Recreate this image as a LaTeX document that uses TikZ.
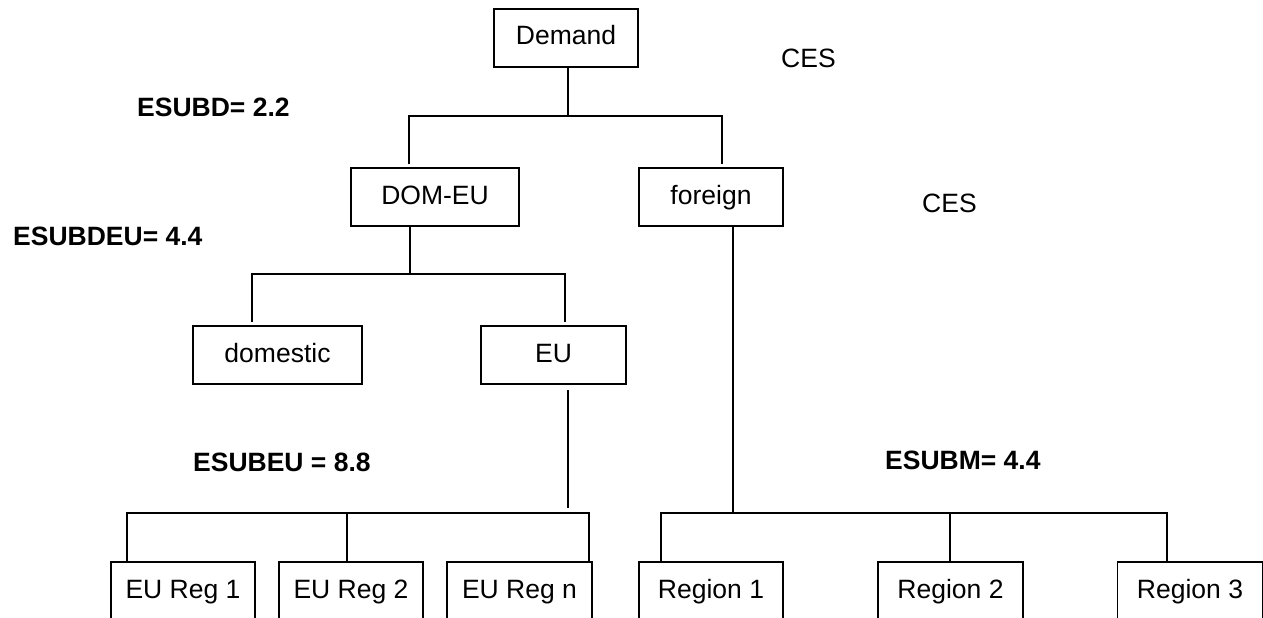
\documentclass[tikz,border=0pt]{standalone}
\usepackage{fontspec}
\setmainfont{Liberation Sans}
\begin{document}
\begin{tikzpicture}[x=1pt,y=-1pt,
  every node/.style={font=\fontsize{26.5}{30}\selectfont},
  box/.style={draw,line width=1.5pt,rectangle,minimum height=58pt,inner sep=0pt,text height=19pt,text depth=5pt},
  lbl/.style={anchor=west,inner sep=0pt,font=\fontsize{26.5}{30}\selectfont\bfseries},
  cl/.style={anchor=west,inner sep=0pt},
  conn/.style={line width=1.5pt}]
\useasboundingbox[fill=white] (0,0) rectangle (1263,618);
% boxes
\node[box,minimum width=144pt] (demand) at (566,38) {Demand};
\node[box,minimum width=168pt] (domeu) at (435,197) {DOM-EU};
\node[box,minimum width=144pt] (foreign) at (711,197) {foreign};
\node[box,minimum width=169pt] (domestic) at (277.5,355) {domestic};
\node[box,minimum width=145pt] (eu) at (553.5,355) {EU};
\node[box,minimum width=144pt] (eur1) at (183,591) {EU Reg 1};
\node[box,minimum width=144pt] (eur2) at (351,591) {EU Reg 2};
\node[box,minimum width=145pt] (eurn) at (519.5,591) {EU Reg n};
\node[box,minimum width=144pt] (reg1) at (711,591) {Region 1};
\node[box,minimum width=145pt] (reg2) at (950.5,591) {Region 2};
\node[box,minimum width=145pt] (reg3) at (1190,591) {Region 3};
% labels
\node[lbl] (esubd) at (137,107) {ESUBD= 2.2};
\node[lbl] (esubdeu) at (13,236) {ESUBDEU= 4.4};
\node[lbl] (esubeu) at (193,462) {ESUBEU = 8.8};
\node[lbl] (esubm) at (885,460) {ESUBM= 4.4};
\node[cl] (ces1) at (781,58) {CES};
\node[cl] (ces2) at (922,203) {CES};
% junction coordinates
\coordinate (b1l) at (409,116);
\coordinate (b1r) at (722,116);
\coordinate (b1s) at (568,116);
\coordinate (b2l) at (252,274);
\coordinate (b2r) at (565,274);
\coordinate (b2s) at (410,274);
\coordinate (b3l) at (127,513);
\coordinate (b3m) at (347,513);
\coordinate (b3r) at (589,513);
\coordinate (b3s) at (568,508);
\coordinate (b4l) at (661,513);
\coordinate (b4m) at (950,513);
\coordinate (b4r) at (1167,513);
\coordinate (b4s) at (733,513);
% connectors
\draw[conn] (demand.south -| b1s) -- (b1s);
\draw[conn] ([yshift=3pt]domeu.north -| b1l) -- (b1l) -- (b1r) -- ([yshift=3pt]foreign.north -| b1r);
\draw[conn] (domeu.south -| b2s) -- (b2s);
\draw[conn] ([yshift=3pt]domestic.north -| b2l) -- (b2l) -- (b2r) -- ([yshift=3pt]eu.north -| b2r);
\draw[conn] ([yshift=-5pt]eu.south -| b3s) -- (b3s);
\draw[conn] (eur1.north -| b3l) -- (b3l) -- (b3r) -- (eurn.north -| b3r);
\draw[conn] (eur2.north -| b3m) -- (b3m);
\draw[conn] (foreign.south -| b4s) -- (b4s);
\draw[conn] (reg1.north -| b4l) -- (b4l) -- (b4r) -- (reg3.north -| b4r);
\draw[conn] (reg2.north -| b4m) -- (b4m);
\end{tikzpicture}
\end{document}
